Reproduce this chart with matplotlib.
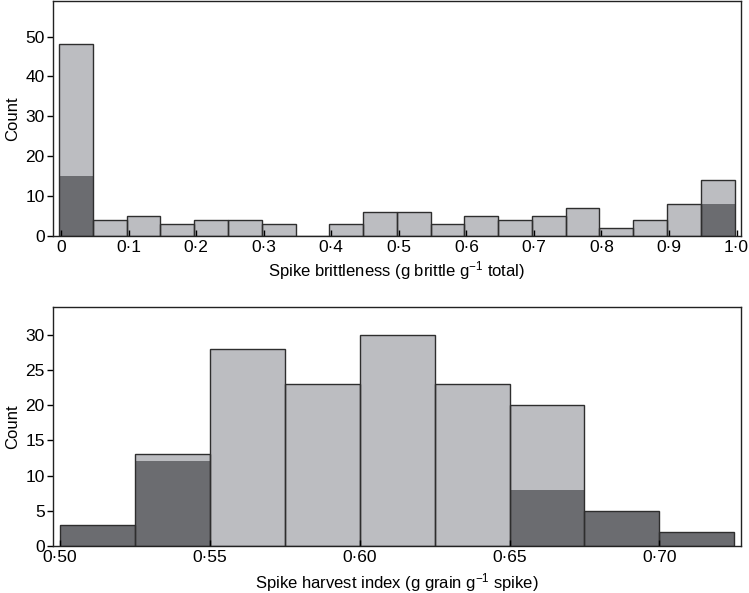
import numpy as np
import matplotlib.pyplot as plt

plt.rcParams['font.family'] = ['Liberation Sans', 'DejaVu Sans']
plt.rcParams['mathtext.fontset'] = 'custom'
plt.rcParams['mathtext.rm'] = 'Liberation Sans'
plt.rcParams['mathtext.it'] = 'Liberation Sans'

# spike brittleness histogram (bin width 0.05)
brittle_edges = [-0.003 + 0.05 * i for i in range(21)]
brittle_total = [48, 4, 5, 3, 4, 4, 3, 0, 3, 6, 6, 3, 5, 4, 5, 7, 2, 4, 8, 14]
brittle_dark = [15, 0, 0, 0, 0, 0, 0, 0, 0, 0, 0, 0, 0, 0, 0, 0, 0, 0, 0, 8]
brittle_ticks = [0, 0.1, 0.2, 0.3, 0.4, 0.5, 0.6, 0.7, 0.8, 0.9, 1.0]
brittle_labels = ['0', '0·1', '0·2', '0·3', '0·4', '0·5', '0·6', '0·7', '0·8', '0·9', '1·0']

# spike harvest index histogram (bin width 0.025)
shi_edges = [0.5, 0.525, 0.55, 0.575, 0.6, 0.625, 0.65, 0.675, 0.7, 0.725]
shi_total = [3, 13, 28, 23, 30, 23, 20, 5, 2]
shi_dark = [3, 12, 0, 0, 0, 0, 8, 5, 2]
shi_ticks = [0.50, 0.55, 0.60, 0.65, 0.70]
shi_labels = ['0·50', '0·55', '0·60', '0·65', '0·70']

light = '#bcbdc1'
dark = '#6b6c70'
edge = '#2e2e2e'


def draw_hist(ax, edges, total, sub):
    edges = np.asarray(edges)
    left = edges[:-1]
    width = np.diff(edges)
    ax.bar(left, total, width=width, align='edge', color=light, linewidth=0)
    ax.bar(left, sub, width=width, align='edge', color=dark, linewidth=0)
    ax.bar(left, total, width=width, align='edge', facecolor='none',
           edgecolor=edge, linewidth=1.0)
    ax.tick_params(axis='x', direction='in', length=4, width=1, labelsize=12.5, pad=3)
    ax.tick_params(axis='y', direction='out', length=4, width=1, labelsize=12.5, pad=2)
    for s in ax.spines.values():
        s.set_linewidth(1.0)
        s.set_color('#222222')


fig = plt.figure(figsize=(7.49, 5.93), dpi=100)

ax1 = fig.add_axes([0.0708, 0.602, 0.918, 0.397])
draw_hist(ax1, brittle_edges, brittle_total, brittle_dark)
ax1.set_xlim(-0.012, 1.006)
ax1.set_ylim(0, 59)
ax1.set_xticks(brittle_ticks)
ax1.set_xticklabels(brittle_labels)
ax1.set_yticks([0, 10, 20, 30, 40, 50])
ax1.set_xlabel('Spike brittleness (g brittle g$^{-1}$ total)', fontsize=12, labelpad=3)
ax1.set_ylabel('Count', fontsize=12, labelpad=4)

ax2 = fig.add_axes([0.0708, 0.0793, 0.918, 0.4037])
draw_hist(ax2, shi_edges, shi_total, shi_dark)
ax2.set_xlim(0.4977, 0.7271)
ax2.set_ylim(0, 34)
ax2.set_xticks(shi_ticks)
ax2.set_xticklabels(shi_labels)
ax2.set_yticks([0, 5, 10, 15, 20, 25, 30])
ax2.set_xlabel('Spike harvest index (g grain g$^{-1}$ spike)', fontsize=12, labelpad=4)
ax2.set_ylabel('Count', fontsize=12, labelpad=4)

fig.savefig('out.png', dpi=100)
